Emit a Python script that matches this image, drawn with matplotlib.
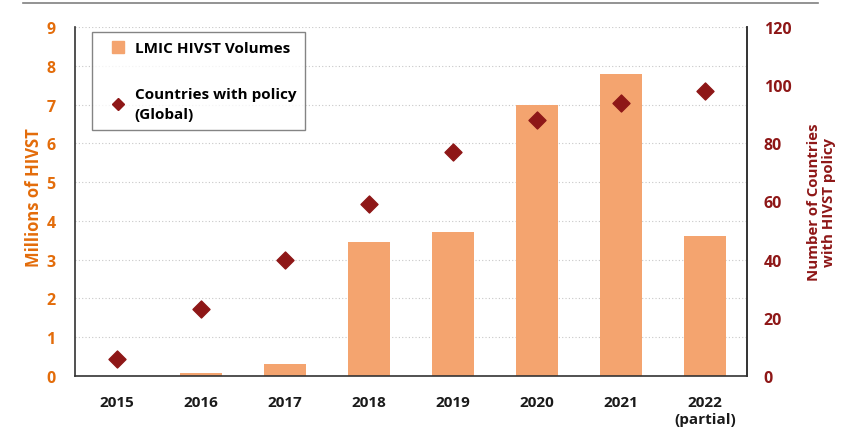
import matplotlib.pyplot as plt
from matplotlib.lines import Line2D

years = ["2015", "2016", "2017", "2018", "2019", "2020", "2021", "2022\n(partial)"]
hivst_millions = [0, 0.07, 0.3, 3.45, 3.72, 7.0, 7.8, 3.62]
countries_policy = [6, 23, 40, 59, 77, 88, 94, 98]

bar_color = "#F4A46F"
diamond_color = "#8E1717"
left_color = "#E36C0A"

plt.rcParams['font.family'] = ['Open Sans', 'DejaVu Sans']
plt.rcParams['font.weight'] = 'bold'

fig = plt.figure(figsize=(8.5, 4.31), dpi=100)
ax = fig.add_axes([75 / 850, 1 - 377 / 431, 672 / 850, 349 / 431])
x = range(len(years))

ax.bar(x, hivst_millions, width=0.5, color=bar_color, zorder=2)
ax.set_xlim(-0.5, len(years) - 0.5)
ax.set_ylim(0, 9)
ax.set_yticks(range(0, 10))
ax.yaxis.grid(True, linestyle=(0, (1, 2)), color="#c8c8c8", linewidth=0.8, zorder=0)
ax.set_xticks(list(x))
ax.set_xticklabels(years, fontsize=11, fontweight='bold', color="#1a1a1a", va='top')
ax.tick_params(axis='x', length=0, pad=14)
ax.tick_params(axis='y', length=0, pad=14, labelsize=11.5, labelcolor=left_color)
for lbl in ax.get_yticklabels():
    lbl.set_fontweight('bold')
ax.set_ylabel("Millions of HIVST", fontsize=12, fontweight='bold', color=left_color)
ax.yaxis.set_label_coords(-0.047, 0.515)
ax.spines['top'].set_visible(False)
for s in ['left', 'bottom', 'right']:
    ax.spines[s].set_color("#333333")
    ax.spines[s].set_linewidth(1.2)

ax2 = ax.twinx()
ax2.scatter(x, countries_policy, marker='D', s=75, color=diamond_color, zorder=3)
ax2.set_ylim(0, 120)
ax2.set_yticks(range(0, 121, 20))
ax2.tick_params(axis='y', length=0, pad=12, labelsize=11.5, labelcolor=diamond_color)
for lbl in ax2.get_yticklabels():
    lbl.set_fontweight('bold')
ax2.set_ylabel("Number of Countries\nwith HIVST policy", fontsize=10.8, fontweight='bold',
               color=diamond_color, labelpad=11, linespacing=1.15)
for s in ['top', 'left', 'bottom']:
    ax2.spines[s].set_visible(False)
ax2.spines['right'].set_color("#333333")
ax2.spines['right'].set_linewidth(1.2)

handles = [
    Line2D([], [], marker='s', linestyle='none', color=bar_color, markersize=8),
    Line2D([], [], marker='D', linestyle='none', color=diamond_color, markersize=6),
]
leg = ax.legend(handles, ["LMIC HIVST Volumes", "Countries with policy\n(Global)"],
                loc='upper left', bbox_to_anchor=(0.025, 0.985), fontsize=11,
                frameon=True, fancybox=False, edgecolor="#666666", labelspacing=2.1,
                handletextpad=0.0, handlelength=2.2, borderpad=0.6, borderaxespad=0)
leg.get_frame().set_linewidth(1.0)
for t in leg.get_texts():
    t.set_fontweight('bold')
    t.set_linespacing(1.5)

fig.add_artist(Line2D([23 / 850, 818 / 850], [1 - 4 / 431, 1 - 4 / 431],
                      color="#808080", linewidth=1.2))

plt.savefig('out.png', dpi=100)
